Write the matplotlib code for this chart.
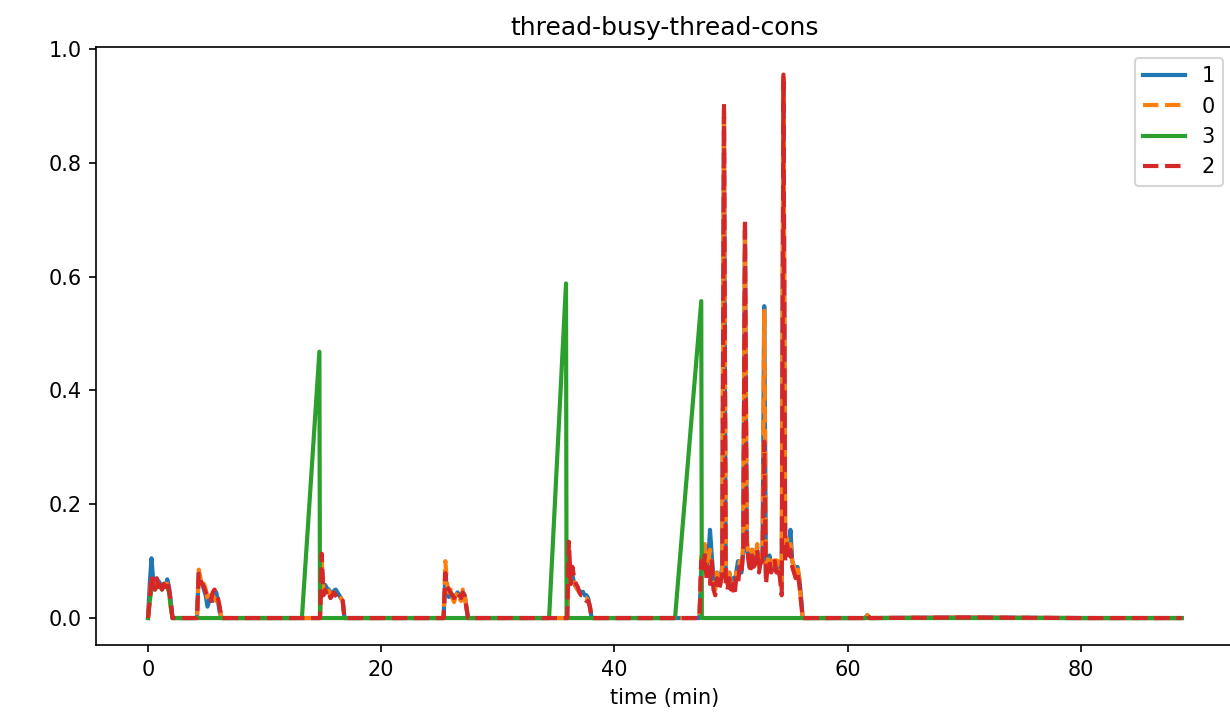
import numpy as np
import matplotlib
matplotlib.use("Agg")
import matplotlib.pyplot as plt

# ---------------- data ----------------
dt = 0.15  # sampling step inside active bursts (min)

burst_starts = [0.0, 4.2, 14.75, 25.35, 35.95, 47.3]

s1_bursts = [  # series "1" (blue)
    [0.0, 0.06, 0.105, 0.065, 0.06, 0.055, 0.065, 0.06, 0.055, 0.06, 0.055, 0.068, 0.055, 0.03, 0.0],
    [0.0, 0.08, 0.065, 0.06, 0.05, 0.04, 0.02, 0.03, 0.04, 0.03, 0.04, 0.045, 0.03, 0.01, 0.0],
    [0.0, 0.09, 0.05, 0.058, 0.052, 0.05, 0.045, 0.04, 0.048, 0.05, 0.045, 0.04, 0.035, 0.03, 0.0],
    [0.0, 0.07, 0.05, 0.037, 0.045, 0.04, 0.035, 0.04, 0.045, 0.04, 0.04, 0.045, 0.04, 0.02, 0.0],
    [0.0, 0.10, 0.07, 0.076, 0.06, 0.055, 0.05, 0.048, 0.045, 0.046, 0.04, 0.04, 0.035, 0.02, 0.0],
    [0.0, 0.09, 0.10, 0.12, 0.09, 0.10, 0.155, 0.11, 0.07, 0.06, 0.08, 0.06, 0.07, 0.09, 0.88, 0.07, 0.06, 0.08,
     0.06, 0.07, 0.06, 0.08, 0.10, 0.09, 0.08, 0.12, 0.68, 0.12, 0.11, 0.09, 0.12, 0.10, 0.11, 0.12, 0.09,
     0.11, 0.10, 0.548, 0.08, 0.10, 0.11, 0.09, 0.10, 0.09, 0.10, 0.09, 0.08, 0.06, 0.94, 0.11, 0.13, 0.12,
     0.155, 0.10, 0.09, 0.08, 0.09, 0.07, 0.04, 0.0],
]

s0_bursts = [  # series "0" (orange)
    [0.0, 0.04, 0.07, 0.06, 0.055, 0.065, 0.06, 0.06, 0.055, 0.06, 0.06, 0.06, 0.05, 0.02, 0.0],
    [0.0, 0.085, 0.07, 0.055, 0.06, 0.05, 0.035, 0.03, 0.04, 0.04, 0.035, 0.03, 0.03, 0.02, 0.0],
    [0.0, 0.10, 0.045, 0.05, 0.045, 0.048, 0.04, 0.042, 0.045, 0.045, 0.04, 0.038, 0.035, 0.03, 0.0],
    [0.0, 0.10, 0.06, 0.045, 0.05, 0.035, 0.028, 0.04, 0.045, 0.035, 0.03, 0.05, 0.045, 0.02, 0.0],
    [0.0, 0.11, 0.06, 0.07, 0.065, 0.055, 0.05, 0.045, 0.04, 0.04, 0.035, 0.035, 0.03, 0.02, 0.0],
    [0.0, 0.11, 0.09, 0.13, 0.08, 0.10, 0.12, 0.09, 0.06, 0.05, 0.08, 0.06, 0.07, 0.08, 0.89, 0.07, 0.06, 0.08,
     0.06, 0.07, 0.05, 0.08, 0.07, 0.10, 0.09, 0.13, 0.69, 0.14, 0.11, 0.09, 0.12, 0.10, 0.11, 0.13, 0.09,
     0.11, 0.10, 0.54, 0.07, 0.10, 0.11, 0.09, 0.10, 0.11, 0.09, 0.10, 0.08, 0.05, 0.95, 0.11, 0.14, 0.12,
     0.13, 0.10, 0.09, 0.08, 0.09, 0.07, 0.03, 0.0],
]

s2_bursts = [  # series "2" (red)
    [0.0, 0.03, 0.075, 0.06, 0.05, 0.07, 0.055, 0.065, 0.05, 0.06, 0.055, 0.065, 0.05, 0.03, 0.0],
    [0.0, 0.078, 0.065, 0.06, 0.055, 0.045, 0.04, 0.035, 0.03, 0.045, 0.05, 0.045, 0.035, 0.02, 0.0],
    [0.0, 0.113, 0.04, 0.05, 0.04, 0.045, 0.035, 0.04, 0.045, 0.04, 0.035, 0.035, 0.03, 0.03, 0.0],
    [0.0, 0.079, 0.055, 0.05, 0.045, 0.04, 0.035, 0.04, 0.045, 0.04, 0.035, 0.045, 0.04, 0.02, 0.0],
    [0.0, 0.134, 0.06, 0.09, 0.07, 0.06, 0.055, 0.045, 0.04, 0.04, 0.035, 0.03, 0.03, 0.02, 0.0],
    [0.0, 0.10, 0.08, 0.11, 0.07, 0.09, 0.06, 0.10, 0.05, 0.04, 0.07, 0.05, 0.06, 0.08, 0.905, 0.06, 0.05, 0.07,
     0.05, 0.06, 0.04, 0.07, 0.06, 0.09, 0.08, 0.12, 0.70, 0.13, 0.10, 0.08, 0.11, 0.09, 0.10, 0.12, 0.08,
     0.10, 0.09, 0.31, 0.06, 0.09, 0.10, 0.08, 0.09, 0.10, 0.08, 0.09, 0.07, 0.04, 0.955, 0.10, 0.13, 0.11,
     0.12, 0.09, 0.08, 0.07, 0.08, 0.06, 0.03, 0.0],
]

# series "3" (green): low first burst, then sparse samples (ramps between gaps)
s3_first_burst = [0.0, 0.03, 0.05, 0.055, 0.05, 0.055, 0.055, 0.055, 0.05, 0.055, 0.055, 0.055, 0.045, 0.02, 0.0]
s3_times = [13.2, 14.7, 14.75, 34.4, 35.85, 35.9, 45.2, 47.45, 47.5, 88.66]
s3_values = [0.0, 0.468, 0.0, 0.0, 0.588, 0.0, 0.0, 0.557, 0.0, 0.0]

# quiet tail after the last burst
tail_times = [56.4, 61.5, 61.7, 61.9, 70.0, 80.0, 88.66]
tail_values = [0.0, 0.0, 0.005, 0.0, 0.001, 0.0, 0.0]

labels = ["1", "0", "3", "2"]
colors = ["#1f77b4", "#ff7f0e", "#2ca02c", "#d62728"]
styles = ["-", "--", "-", "--"]


def assemble(bursts):
    t, v = [], []
    for start, vals in zip(burst_starts, bursts):
        t.extend(start + dt * np.arange(len(vals)))
        v.extend(vals)
    t.extend(tail_times)
    v.extend(tail_values)
    return np.array(t), np.array(v)


t1, v1 = assemble(s1_bursts)
t0, v0 = assemble(s0_bursts)
t2, v2 = assemble(s2_bursts)
t3 = np.concatenate([burst_starts[0] + dt * np.arange(len(s3_first_burst)), s3_times])
v3 = np.concatenate([s3_first_burst, s3_values])

# ---------------- plot ----------------
fig = plt.figure(figsize=(8.2, 4.807), dpi=150)
# the reference is cropped on the right: the axes' right spine lies just off-canvas
ax = fig.add_axes([0.0783, 0.1051, 0.9245, 0.8291])

series = [(t1, v1), (t0, v0), (t3, v3), (t2, v2)]
for (t, v), lab, c, ls in zip(series, labels, colors, styles):
    ax.plot(t, v, ls, color=c, lw=2, label=lab)

ax.set_title("thread-busy-thread-cons", fontsize=12)
ax.set_xlabel("time (min)", fontsize=10)
ax.tick_params(labelsize=10)
ax.set_xticks([0, 20, 40, 60, 80])
ax.set_yticks([0.0, 0.2, 0.4, 0.6, 0.8, 1.0])
ax.legend(loc="upper right", fontsize=10)

fig.savefig("out.png", dpi=150)
